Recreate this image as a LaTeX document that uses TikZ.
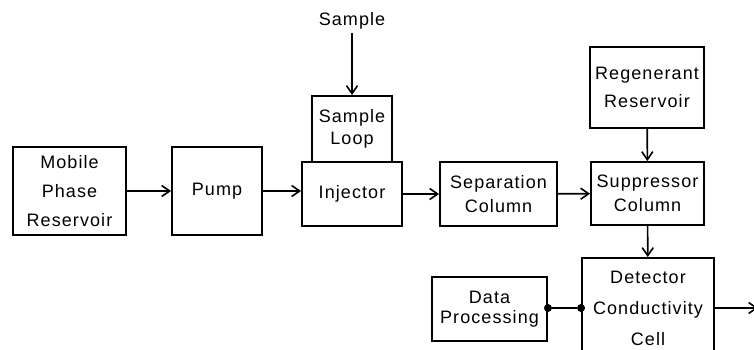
\documentclass[tikz,border=0pt]{standalone}
\usepackage{fontspec}
\setmainfont[LetterSpace=6]{Liberation Sans}
\usetikzlibrary{arrows.meta}

\begin{document}
\begin{tikzpicture}[x=1pt, y=-1pt,
    block/.style={draw, line width=1.9pt, align=center, inner sep=0pt,
        font=\fontsize{18}{#1}\selectfont},
    block/.default=24,
    flow/.style={-{Straight Barb[length=8pt,width=11pt,line width=1.6pt]}, line width=1.6pt},
    link/.style={line width=1.6pt},
    dot/.style={circle, fill, inner sep=0pt, minimum size=8pt}]

    % Page size
    \useasboundingbox (0,0) rectangle (754,350);

    % Draw the main row of blocks
    \node[block=29, minimum width=113pt, minimum height=88pt] (mobile) at (69.5,191) {Mobile\\Phase\\Reservoir};
    \node[block, minimum width=90pt, minimum height=88pt] (pump) at (217,191) {Pump};
    \node[block=22, minimum width=80pt, minimum height=66pt] (loop) at (352,129) {Sample\\Loop};
    \node[block, minimum width=100pt, minimum height=64pt] (injector) at (352,194) {Injector};
    \node[block, minimum width=117pt, minimum height=64pt] (separation) at (498.5,194) {Separation\\Column};
    \node[block, minimum width=113pt, minimum height=63pt] (suppressor) at (647.5,193.5) {Suppressor\\Column};

    % Draw the blocks above and below
    \node[font=\fontsize{18}{24}\selectfont] (sample) at (352,21) {Sample};
    \node[block=28, minimum width=114pt, minimum height=81pt] (regen) at (647,87.5) {Regenerant\\Reservoir};
    \node[block=31, minimum width=132pt, minimum height=100pt] (detector) at (648,308) {Detector\\Conductivity\\Cell};
    \node[block=20, minimum width=115pt, minimum height=64pt] (data) at (489.5,309) {Data\\Processing};

    % Flow arrows
    \draw[flow] (sample) -- (loop);
    \draw[flow] (mobile) -- (pump);
    \draw[flow] (pump) -- (pump.east -| injector.west);
    \draw[flow] (injector) -- (separation);
    \draw[flow] (separation) -- (suppressor);
    \draw[flow] (regen) -- (suppressor);
    \draw[flow] (suppressor) -- (detector);

    % Output of the cell (runs off the page)
    \coordinate (out) at (758,308);
    \draw[flow] (detector.east) -- (out);

    % Signal link to data processing
    \node[dot] (d1) at (data.east |- detector.west) {};
    \node[dot] (d2) at (detector.west) {};
    \draw[link] (d1) -- (d2);

\end{tikzpicture}
\end{document}
